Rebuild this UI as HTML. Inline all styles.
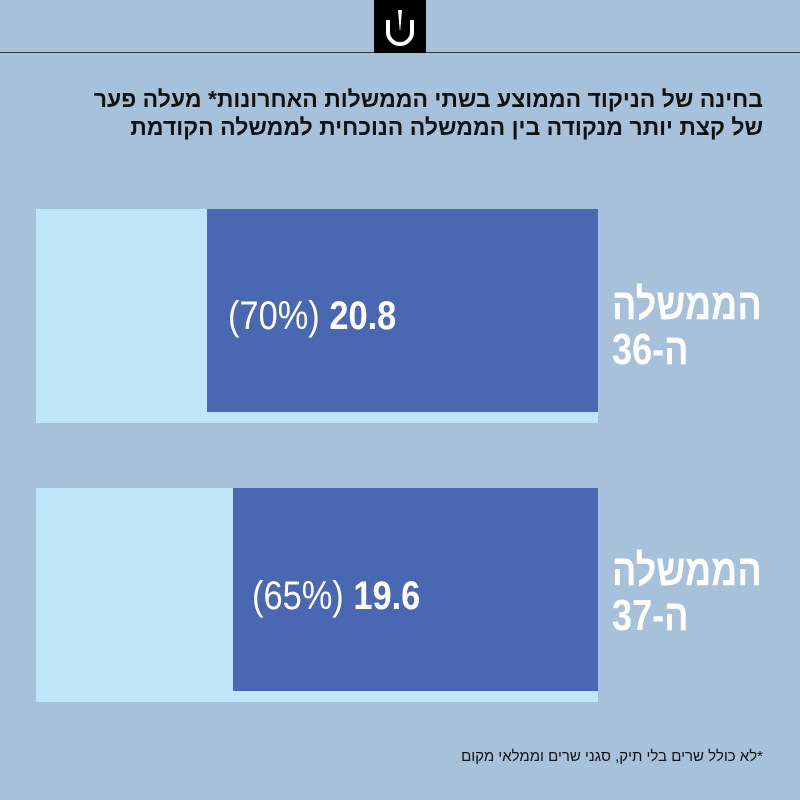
<!DOCTYPE html>
<html><head><meta charset="utf-8"><style>
body{margin:0;width:800px;height:800px;background:#a6c1d9;position:relative;overflow:hidden;font-family:"Liberation Sans","Noto Sans CJK SC",sans-serif;}
.abs{position:absolute}
.line{left:0;top:52px;width:800px;height:1px;background:#333}
.logo{left:374px;top:0;width:52px;height:53px;background:#000}
.title{right:37px;top:85px;width:760px;text-align:right;direction:rtl;font-weight:bold;font-size:23px;line-height:28px;color:#111}
.light{background:#bfe6f8}
.dark{background:#4a67b2}
.val{color:#fff;font-size:40px;white-space:nowrap;transform:scaleX(0.86);transform-origin:left center}
.lab{direction:rtl;text-align:left;left:612px;color:#fff;font-weight:bold;font-size:44px;line-height:45px;transform:scaleX(0.82);transform-origin:left center;white-space:nowrap}
.foot{right:37px;top:748px;direction:rtl;font-size:15px;color:#111}
</style></head><body>
<div class="abs line"></div>
<div class="abs logo"><svg width="52" height="53"><path d="M14 20 V32 A12 12 0 0 0 38 32 V20" fill="none" stroke="#fff" stroke-width="4"/><path d="M24 10 L28 10 L26.3 30 L25.7 30Z" fill="#fff"/></svg></div>
<div class="abs title">בחינה של הניקוד הממוצע בשתי הממשלות האחרונות* מעלה פער<br>של קצת יותר מנקודה בין הממשלה הנוכחית לממשלה הקודמת</div>

<div class="abs light" style="left:36px;top:209px;width:562px;height:214px"></div>
<div class="abs dark" style="left:207px;top:209px;width:391px;height:203px"></div>
<div class="abs val" style="left:228px;top:294px"><span>(70%)</span> <b>20.8</b></div>
<div class="abs lab" style="top:282px">הממשלה<br>ה-36</div>

<div class="abs light" style="left:36px;top:488px;width:562px;height:214px"></div>
<div class="abs dark" style="left:233px;top:488px;width:365px;height:203px"></div>
<div class="abs val" style="left:252px;top:574px"><span>(65%)</span> <b>19.6</b></div>
<div class="abs lab" style="top:548px">הממשלה<br>ה-37</div>

<div class="abs foot">*לא כולל שרים בלי תיק, סגני שרים וממלאי מקום</div>
</body></html>
